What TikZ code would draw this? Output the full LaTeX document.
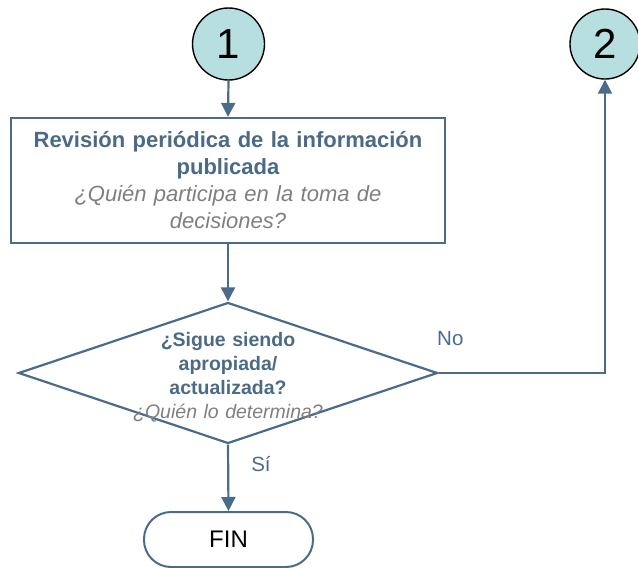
\documentclass[tikz,border=0pt]{standalone}
\usepackage{fontspec}
\setmainfont{Liberation Sans}
\usetikzlibrary{shapes.geometric,arrows.meta}
\definecolor{lineblue}{HTML}{4A6C8A}
\definecolor{titleblue}{HTML}{4A6A86}
\definecolor{greytext}{HTML}{7F7F7F}
\definecolor{circfill}{HTML}{B8DFE0}
\tikzset{
  conn/.style={draw=lineblue, line width=2.2pt},
  arr/.style={conn, -{Triangle[length=14pt,width=14pt]}},
  numcirc/.style={circle, draw=black, line width=1.4pt, fill=circfill, inner sep=0pt, font=\fontsize{42}{42}\selectfont},
  procbox/.style={rectangle, draw=lineblue, line width=2.2pt, inner sep=0pt, minimum width=434pt, minimum height=125pt, align=center, text width=430pt, font=\fontsize{22}{27}\selectfont},
  decision/.style={diamond, draw=lineblue, line width=2.2pt, inner sep=0pt, minimum width=419pt, minimum height=141pt},
  dtext/.style={align=center, text width=300pt, inner sep=0pt, font=\fontsize{19.5}{24}\selectfont},
  term/.style={rectangle, rounded corners=27pt, draw=lineblue, line width=2pt, minimum width=169pt, minimum height=55pt, inner sep=0pt, font=\fontsize{24}{24}\selectfont},
  lbl/.style={text=lineblue, inner sep=0pt, font=\fontsize{20.5}{20.5}\selectfont}
}
\begin{document}
\begin{tikzpicture}[x=1pt,y=-1pt]
\useasboundingbox (0,0) rectangle (638,568);
\node[numcirc, minimum size=72pt] (c1) at (228.5,44) {1};
\node[numcirc, minimum size=70pt] (c2) at (605,44) {2};
\node[procbox] (box) at (228,180.5) {{\bfseries\color{titleblue}Revisión periódica de la información\\publicada}\\{\itshape\color{greytext}¿Quién participa en la toma de\\decisiones?}};
\node[decision] (dia) at (228,373) {};
\node[dtext] (dt) at (228,377) {{\bfseries\color{titleblue}¿Sigue siendo\\apropiada/\\actualizada?}\\{\itshape\color{greytext}¿Quién lo determina?}};
\node[term] (fin) at (228.5,539.5) {FIN};
\coordinate (corner) at (c2.south |- dia.east);
\draw[arr] (c1.south) -- (box.north);
\draw[arr] (box.south) -- (dia.north);
\draw[arr] (dia.south) -- node[lbl, right=22pt, pos=0.3] (si) {Sí} (fin.north);
\draw[arr] (dia.east) -- (corner) -- (c2.south);
\node[lbl, anchor=base west] (no) at (437,345) {No};
\end{tikzpicture}
\end{document}
